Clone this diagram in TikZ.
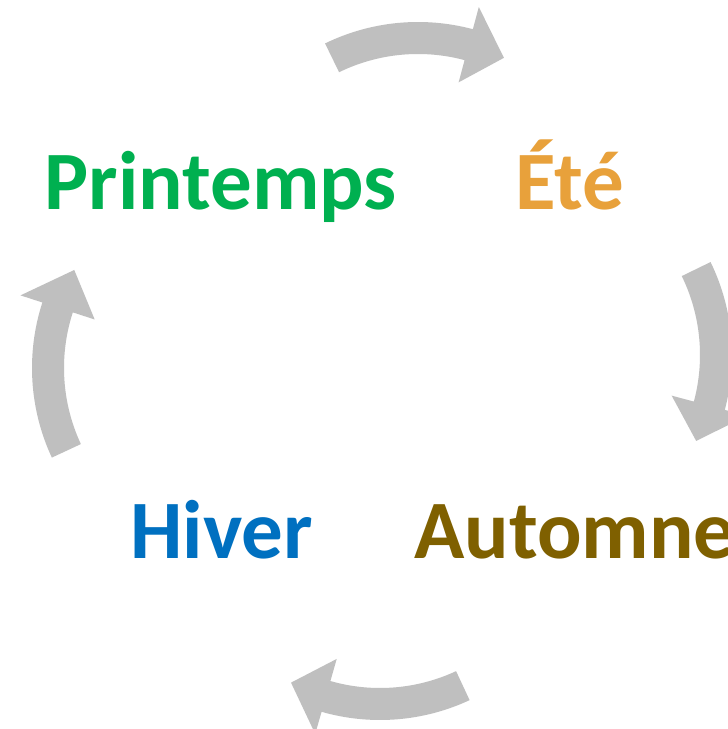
\documentclass[tikz,border=0pt]{standalone}
\usepackage{fontspec}
\setmainfont{Carlito}
\definecolor{arrowgray}{RGB}{191,191,191}
\definecolor{springc}{RGB}{0,176,80}
\definecolor{summerc}{RGB}{232,161,59}
\definecolor{autumnc}{RGB}{127,96,0}
\definecolor{winterc}{RGB}{0,112,192}
\newcommand\cyclearrow[5]{%
\begin{scope}[shift={(#1,#2)}]
\fill[arrowgray] (#3:212pt) arc[start angle=#3,end angle=#4,radius=212pt]
  -- (#4:235pt) -- (#5:196pt) -- (#4:157pt) -- (#4:180pt)
  arc[start angle=#4,end angle=#3,radius=180pt] -- cycle;
\end{scope}}
\tikzset{season/.style={font=\fontsize{83}{90}\selectfont\bfseries, inner sep=0pt}}
\begin{document}
\begin{tikzpicture}[x=1pt,y=1pt]
\useasboundingbox (0,0) rectangle (728,729);
\clip (0,0) rectangle (728,729);
\fill[white] (0,0) rectangle (728,729);
\cyclearrow{418}{495}{116}{75}{64}
\cyclearrow{520}{374}{26}{-15}{-26}
\cyclearrow{380}{221}{-65}{-106}{-117}
\cyclearrow{244}{361}{205}{162}{150}
\node[season, text=springc, anchor=base] (printemps) at (220.7,519) {Printemps};
\node[season, text=summerc, anchor=base] (ete) at (569.8,519) {Été};
\node[season, text=winterc, anchor=base] (hiver) at (221.7,170) {Hiver};
\node[season, text=autumnc, anchor=base west] (automne) at (414,170) {Automne};
\end{tikzpicture}
\end{document}
